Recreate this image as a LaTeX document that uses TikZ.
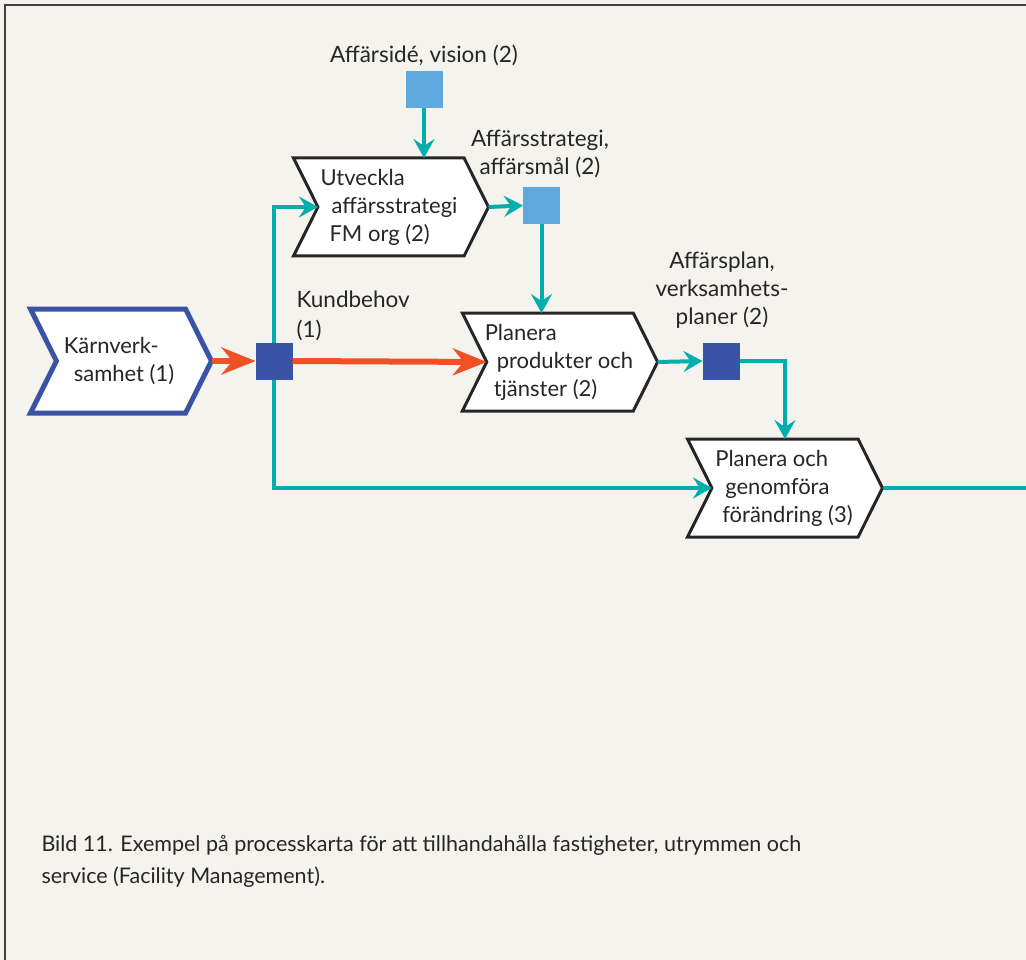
\documentclass[tikz,border=0pt]{standalone}
\usepackage{fontspec}
\setmainfont{Lato}
\usetikzlibrary{arrows.meta,shapes.symbols,positioning}
\definecolor{paper}{HTML}{F4F3EE}
\definecolor{teal}{HTML}{00AEAE}
\definecolor{rust}{HTML}{EF5125}
\definecolor{navy}{HTML}{3B53A4}
\definecolor{sky}{HTML}{5EAADF}

\begin{document}
\begin{tikzpicture}[x=1pt,y=-1pt,
    font=\fontsize{22}{28}\selectfont,
    proc/.style={shape=signal, signal to=east, signal from=west,
      signal pointer angle=127, draw=black!85, line width=3pt, fill=white,
      minimum width=195pt, minimum height=98pt, inner sep=0pt, outer sep=0pt,
      align=left, text=black!85},
    sq/.style={minimum size=37pt, inner sep=0pt, outer sep=0pt},
    pipe/.style={teal, line width=4pt},
    flow/.style={pipe, -{Stealth[length=19pt, width=21pt, inset=7pt]}},
    push/.style={rust, line width=6pt, -{Stealth[length=34pt, width=27pt, inset=11pt]}},
    lbl/.style={align=center, text=black!85, font=\fontsize{22.5}{28}\selectfont}]
  \useasboundingbox (0,0) rectangle (1026,960);
  \fill[paper] (0,0) rectangle (1026,960);
  \draw[black!75, line width=1.5pt] (5,960) -- (5,5) -- (1026,5);

  % processer
  \node[proc, draw=navy, line width=5pt, minimum width=181pt, minimum height=104pt]
    (karn) at (121,361) {\hspace*{-4pt}Kärnverk-\\\hspace*{6pt}samhet (1)};
  \node[proc] (utv) at (391,207) {\hspace*{-4pt}Utveckla\\\hspace*{7pt}affärsstrategi\\\hspace*{5pt}FM org (2)};
  \node[proc] (plan) at (560,362) {\hspace*{-2pt}Planera\\\hspace*{10pt}produkter och\\\hspace*{7pt}tjänster (2)};
  \node[proc] (genom) at (785,488) {\hspace*{-2pt}Planera och\\\hspace*{8pt}genomföra\\\hspace*{5pt}förändring (3)};

  % informationsobjekt
  \node[sq, fill=sky] (vision) at (424,89.5) {};
  \node[sq, fill=sky] (strat) at (541.5,205.5) {};
  \node[sq, fill=navy] (vplan) at (721,361) {};
  \coordinate (knut) at (274,361);
  \coordinate (ut) at (1026,488);

  \node[lbl] (tvision) at (424,55) {Affärsidé, vision (2)};
  \node[lbl] (tstrat) at (540,154) {Affärsstrategi,\\affärsmål (2)};
  \node[lbl, align=left, anchor=west, font=\fontsize{22.5}{30}\selectfont] (tkund) at (293,316) {Kundbehov\\(1)};
  \node[lbl] (tvplan) at (722,290) {Affärsplan,\\verksamhets-\\planer (2)};

  % flöden
  \draw[flow] (knut) |- (utv.west);
  \draw[flow] (knut) |- (genom.west);
  \node[sq, fill=navy] (kund) at (knut) {};
  \draw[flow] (vision.south) -- (vision.south |- utv.north);
  \draw[flow] (utv.east) -- (strat.west);
  \draw[flow] (strat.south) -- (strat.south |- plan.north);
  \draw[flow] (plan.east) -- (vplan.west);
  \draw[flow] (vplan.east) -| (genom.north);
  \draw[pipe] (genom.east) -- (ut);
  \draw[push] (karn.east) -- (kund.west);
  \draw[push] (kund.east) -- (plan.west);

  \node[anchor=base west, align=left, text=black!85, font=\fontsize{21.5}{32}\selectfont]
    (bild) at (38,883) {Bild 11. Exempel på processkarta för att tillhandahålla fastigheter, utrymmen och\\service (Facility Management).};
\end{tikzpicture}
\end{document}
